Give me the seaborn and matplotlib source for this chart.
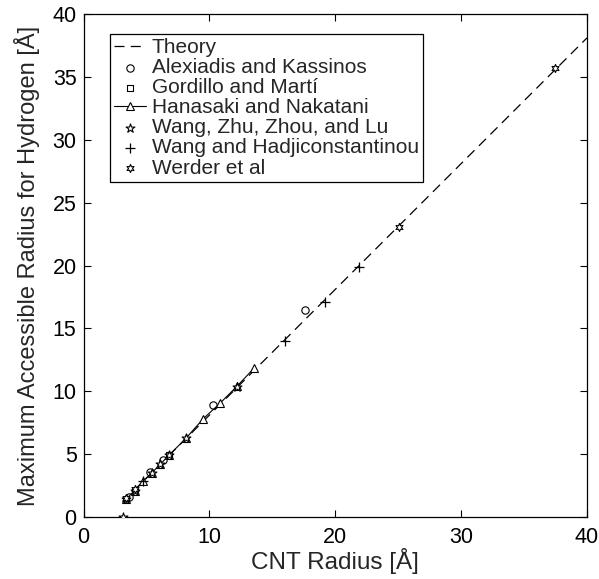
import matplotlib
matplotlib.use("Agg")
import matplotlib.pyplot as plt
import seaborn as sns
import pandas as pd

theory_x = [3.1, 40.0]
theory_y = [1.2, 38.1]

alex_x = [3.6, 5.3, 6.35, 10.25, 17.6]
alex_y = [1.6, 3.6, 4.5, 8.9, 16.5]

gord_x = [4.07, 6.78]
gord_y = [2.1, 4.9]

hana_x = [3.4, 4.07, 4.75, 5.42, 6.1, 6.78, 8.14, 9.5, 10.85, 12.2, 13.56]
hana_y = [1.45, 2.1, 2.85, 3.5, 4.2, 4.9, 6.26, 7.8, 9.05, 10.4, 11.85]

wzzl_x = [3.1, 3.4, 4.07, 5.42, 6.1, 6.78, 8.14, 12.2]
wzzl_y = [0.0, 1.4, 2.1, 3.5, 4.2, 4.95, 6.3, 10.35]

wh_x = [4.75, 16.0, 19.2, 21.9]
wh_y = [2.9, 14.0, 17.1, 19.9]

werd_x = [3.4, 4.07, 25.1, 37.45]
werd_y = [1.5, 2.2, 23.1, 35.7]

sns.set_style("ticks")
plt.rcParams['font.family'] = ['Liberation Sans', 'DejaVu Sans']

fig = plt.figure(figsize=(5.99, 5.79), dpi=100)
ax = fig.add_axes([83.5/599, 1 - 517/579, 503.5/599, 503/579])

sns.lineplot(x=theory_x, y=theory_y, ax=ax, color='black', linewidth=0.9,
             label='Theory', sort=False)
ax.lines[-1].set_dashes([8, 5])

ms = 28
sns.scatterplot(x=alex_x, y=alex_y, ax=ax, marker='o', s=ms, facecolor='white',
                edgecolor='black', linewidth=0.8, label='Alexiadis and Kassinos', zorder=3)
sns.scatterplot(x=gord_x, y=gord_y, ax=ax, marker='s', s=ms*0.8, facecolor='white',
                edgecolor='black', linewidth=0.8, label='Gordillo and Martí', zorder=3)
sns.lineplot(x=hana_x, y=hana_y, ax=ax, color='black', linewidth=0.8, marker='^',
             markersize=6, markerfacecolor='white', markeredgecolor='black',
             markeredgewidth=0.8, label='Hanasaki and Nakatani', zorder=3)
sns.scatterplot(x=wzzl_x, y=wzzl_y, ax=ax, marker='*', s=ms*1.6, facecolor='white',
                edgecolor='black', linewidth=0.8, label='Wang, Zhu, Zhou, and Lu', zorder=3)
sns.scatterplot(x=wh_x, y=wh_y, ax=ax, marker='+', s=ms*1.8, color='black',
                linewidth=0.9, label='Wang and Hadjiconstantinou', zorder=3)
sns.scatterplot(x=werd_x, y=werd_y, ax=ax, marker=(6, 1, 0), s=ms*1.2, facecolor='white',
                edgecolor='black', linewidth=0.8, label='Werder et al', zorder=3)

ax.set_xlim(0, 40)
ax.set_ylim(0, 40)
ax.set_xticks([0, 10, 20, 30, 40])
ax.set_yticks(list(range(0, 41, 5)))
ax.tick_params(direction='in', length=5, width=0.8, labelsize=15.5, colors='black',
               top=True, right=True, pad=5)
ax.tick_params(axis='x', pad=7)
for sp in ax.spines.values():
    sp.set_visible(True)
    sp.set_linewidth(0.9)
    sp.set_color('black')
ax.set_xlabel('CNT Radius [Å]', fontsize=17.5, labelpad=0)
ax.set_ylabel('Maximum Accessible Radius for Hydrogen [Å]', fontsize=17, labelpad=9)

leg = ax.legend(loc='upper left', bbox_to_anchor=(0.053, 0.96), fontsize=15,
                frameon=True, fancybox=False, edgecolor='black', framealpha=1,
                handlelength=1.5, handletextpad=0.3, labelspacing=0.05,
                borderpad=0.2, borderaxespad=0)
leg.get_frame().set_linewidth(0.9)

fig.savefig('out.png', dpi=100)
